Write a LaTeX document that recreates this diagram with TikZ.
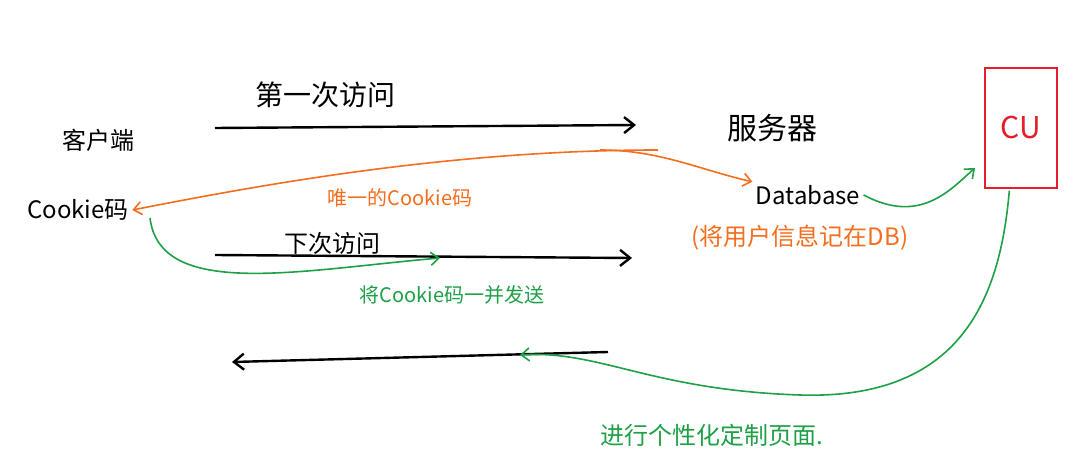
\documentclass[tikz,border=0pt]{standalone}
\usepackage{fontspec}
\setmainfont{Noto Sans CJK SC}
\usetikzlibrary{arrows.meta}
\definecolor{og}{RGB}{245,110,30}
\definecolor{gr}{RGB}{30,160,70}
\definecolor{rd}{RGB}{230,30,40}
\tikzset{lbl/.style={font=\fontsize{24}{26}\selectfont},
 blk/.style={line width=2.4pt,-{Straight Barb[length=10pt,width=16pt]}},
 col/.style={line width=1.6pt,-{Straight Barb[length=8pt,width=13pt]}}}
\begin{document}
\begin{tikzpicture}[x=1pt,y=-1pt]
\useasboundingbox[fill=white] (0,0) rectangle (1086,462);
\node[lbl] (client) at (98,140) {客户端};
\node[lbl] (cookie) at (78,210) {Cookie码};
\node[lbl,font=\fontsize{28}{30}\selectfont] (first) at (325,95) {第一次访问};
\node[lbl,font=\fontsize{30}{32}\selectfont] (server) at (772,128) {服务器};
\node[lbl] (db) at (808,195) {Database};
\node[lbl,og] (dbnote) at (800,238) {(将用户信息记在DB)};
\node[lbl,og,font=\fontsize{20}{22}\selectfont] (uniq) at (400,198) {唯一的Cookie码};
\node[lbl] (next) at (332,243) {下次访问};
\node[lbl,gr,font=\fontsize{20}{22}\selectfont] (send) at (452,295) {将Cookie码一并发送};
\node[lbl,gr] (custom) at (712,435) {进行个性化定制页面.};
\node[draw=rd,line width=1.4pt,minimum width=72pt,minimum height=120pt,text=rd,font=\fontsize{30}{32}\selectfont] (cu) at (1021,128) {CU};
\coordinate (a1) at (215,128); \coordinate (a2) at (636,125);
\draw[blk] (a1) -- (a2);
\coordinate (b1) at (215,255); \coordinate (b2) at (632,258);
\draw[blk] (b1) -- (b2);
\coordinate (c1) at (608,352); \coordinate (c2) at (232,362);
\draw[blk] (c1) -- (c2);
\coordinate (o1) at (658,150);
\draw[col,og] (o1) .. controls (450,150) and (260,185) .. (cookie.east);
\draw[col,og] (600,150) .. controls (660,150) and (700,170) .. (db.north west);
\draw[col,gr] (150,218) .. controls (160,300) and (300,270) .. (440,258);
\draw[col,gr] (db.east) .. controls (920,225) and (950,190) .. (975,168);
\draw[col,gr] (cu.south west) ++(25,2) .. controls (1000,300) and (960,400) .. (800,395) .. controls (650,390) and (600,350) .. (520,355);
\end{tikzpicture}
\end{document}
